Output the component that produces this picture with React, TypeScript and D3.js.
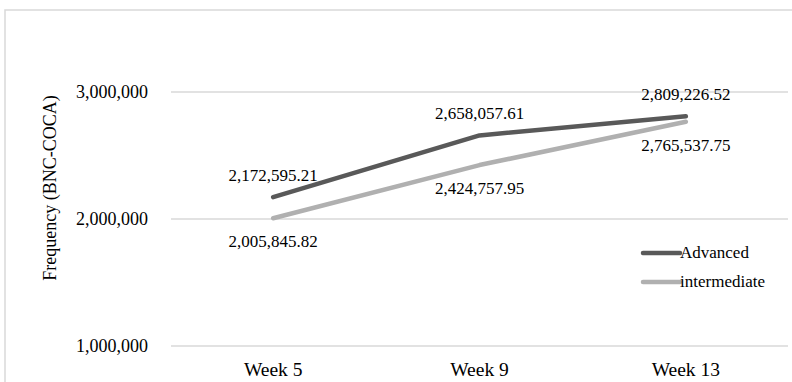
import React from "react";
import * as d3 from "d3";

const categories = ["Week 5", "Week 9", "Week 13"];
const advanced = [2172595.21, 2658057.61, 2809226.52];
const intermediate = [2005845.82, 2424757.95, 2765537.75];
const yTicks = [1000000, 2000000, 3000000];
const seriesNames = ["Advanced", "intermediate"];
const seriesColors = ["#595959", "#b0b0b0"];

const W = 792;
const H = 382;
const FONT = "'Liberation Serif', 'Times New Roman', serif";

export default function App() {
  const x = d3.scalePoint<string>().domain(categories).range([170, 789]).padding(0.5);
  const y = d3.scaleLinear().domain([1000000, 3000000]).range([346, 92]);
  const line = d3
    .line<number>()
    .x((_, i) => x(categories[i]) as number)
    .y((d) => y(d));
  const fmt = d3.format(",.2f");
  const fmtTick = d3.format(",");
  const series = [advanced, intermediate];

  return (
    <svg
      width={W}
      height={H}
      style={{ position: "absolute", left: 0, top: 0, background: "#fff", fontFamily: FONT }}
    >
      <rect x={5} y={10} width={W + 20} height={H + 20} fill="#fff" stroke="#d9d9d9" strokeWidth={1.5} />
      {yTicks.map((t) => (
        <g key={t}>
          <line x1={171} x2={788} y1={y(t)} y2={y(t)} stroke="#d9d9d9" strokeWidth={1.5} />
          <text x={148} y={y(t) + 6} textAnchor="end" fontSize={18} fill="#000">
            {fmtTick(t)}
          </text>
        </g>
      ))}
      {categories.map((c) => (
        <text key={c} x={x(c)} y={376} textAnchor="middle" fontSize={19.5} fill="#000">
          {c}
        </text>
      ))}
      <text
        transform="translate(56,188) rotate(-90)"
        textAnchor="middle"
        fontSize={18}
        fill="#000"
      >
        Frequency (BNC-COCA)
      </text>
      {series.map((s, si) => (
        <path
          key={si}
          d={line(s) as string}
          fill="none"
          stroke={seriesColors[si]}
          strokeWidth={4.5}
          strokeLinecap="round"
          strokeLinejoin="round"
        />
      ))}
      {advanced.map((v, i) => (
        <text key={"a" + i} x={x(categories[i])} y={y(v) - 16} textAnchor="middle" fontSize={17} fill="#000">
          {fmt(v)}
        </text>
      ))}
      {intermediate.map((v, i) => (
        <text key={"b" + i} x={x(categories[i])} y={y(v) + 29} textAnchor="middle" fontSize={17} fill="#000">
          {fmt(v)}
        </text>
      ))}
      {seriesNames.map((n, i) => (
        <g key={n}>
          <line
            x1={643}
            x2={680}
            y1={253 + i * 29}
            y2={253 + i * 29}
            stroke={seriesColors[i]}
            strokeWidth={4.5}
            strokeLinecap="round"
          />
          <text x={680} y={258 + i * 29} fontSize={17} fill="#000">
            {n}
          </text>
        </g>
      ))}
    </svg>
  );
}
